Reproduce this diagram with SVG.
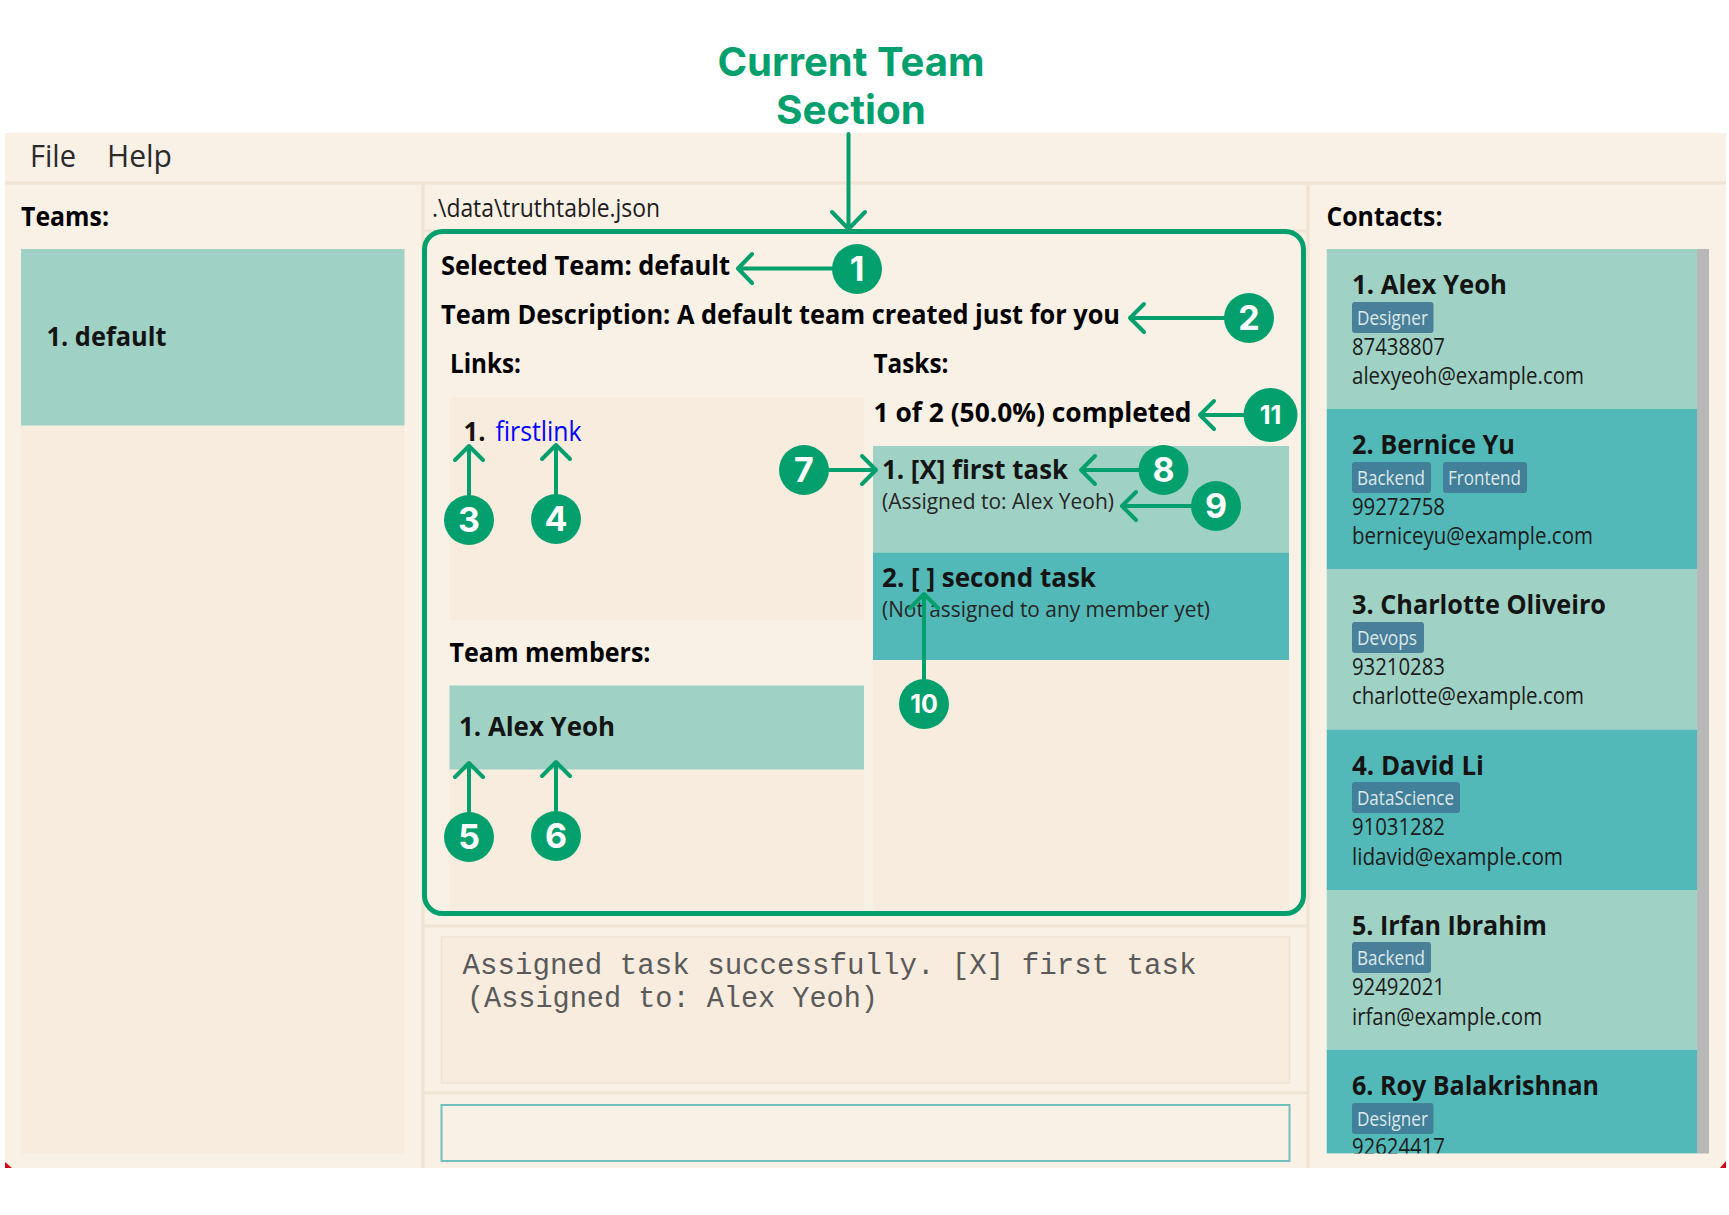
<svg xmlns="http://www.w3.org/2000/svg" width="1729" height="1215" viewBox="0 0 1729 1215">
<style>
text{font-family:"Open Sans","Noto Sans","Liberation Sans",sans-serif;fill:#000}
.h{font-size:26px;font-weight:700}
.n{font-size:27px;font-weight:700;fill:#141414}
.s{font-size:22px;fill:#262626}
.p{font-size:23px;fill:#1c1c1c}
.m{font-size:31px;fill:#2a2a2a}
.t{font-size:20px;fill:#dbe9ea}
.tag{fill:#4a7f99}
.tag2{fill:#427f98}
.c1{fill:#9fd2c4}
.c2{fill:#53b9b8}
.lb{fill:#f8ecde}
.div{stroke:#efe3d2;stroke-width:3;fill:none}
.title{font-family:Inter,"Liberation Sans",sans-serif;font-size:40px;font-weight:700;fill:#03a06e;text-anchor:middle}
.badge circle{fill:#03a06e}
.badge text{font-family:Inter,"Liberation Sans",sans-serif;font-size:34px;font-weight:700;fill:#fff;text-anchor:middle}
.badge text.sm{font-size:25px}
.mono{font-family:"Liberation Mono",monospace;font-size:29px;fill:#5a5a5a}
.ar{stroke:#03a06e;stroke-width:4;fill:none;stroke-linecap:round;stroke-linejoin:round}
</style>
<defs><clipPath id="listclip"><rect x="1327.5" y="249" width="371" height="904.5"/></clipPath></defs>
<rect width="1729" height="1215" fill="#fff"/>
<g id="window">
<rect x="5" y="133" width="1721" height="1035" fill="#f9f0e6"/>
<polygon points="5,1162 5,1168 12,1168" fill="#d0021b"/>
<polygon points="1726,1161 1726,1168 1720,1168" fill="#d0021b"/>
<path class="div" d="M5 183H1726M423 183V1168M1308 183V1168M423 231H1308M423 926H1308M423 1093H1308"/>
</g>
<g id="title">
<text class="title" x="851" y="76" textLength="267" lengthAdjust="spacingAndGlyphs">Current Team</text>
<text class="title" x="851" y="124" textLength="150" lengthAdjust="spacingAndGlyphs">Section</text>
</g>
<g id="menu">
<text class="m" x="30" y="166.5" textLength="46" lengthAdjust="spacingAndGlyphs">File</text>
<text class="m" x="107" y="166.5" textLength="65" lengthAdjust="spacingAndGlyphs">Help</text>
</g>
<g id="teams-panel">
<text class="h" x="21" y="225.5" textLength="88" lengthAdjust="spacingAndGlyphs">Teams:</text>
<rect class="lb" x="21" y="249" width="383.5" height="904.5"/>
<rect class="c1" x="21" y="249" width="383.5" height="176.5"/>
<text class="n" x="46.5" y="346" textLength="120" lengthAdjust="spacingAndGlyphs">1. default</text>
</g>
<g id="file-path"><text class="p" x="432" y="217" style="font-size:25px" textLength="228" lengthAdjust="spacingAndGlyphs">.\data\truthtable.json</text></g>
<g id="team-header">
<text class="h" x="441" y="275.3" textLength="289" lengthAdjust="spacingAndGlyphs">Selected Team: default</text>
<text class="h" x="441" y="324" textLength="679" lengthAdjust="spacingAndGlyphs">Team Description: A default team created just for you</text>
</g>
<g id="links">
<text class="h" x="450" y="373" textLength="71" lengthAdjust="spacingAndGlyphs">Links:</text>
<rect class="lb" x="449.5" y="397" width="414.5" height="223"/>
<text class="n" x="463.5" y="441" textLength="22" lengthAdjust="spacingAndGlyphs">1.</text>
<text x="495.5" y="441" style="font-size:27px;fill:#0000ff" textLength="86" lengthAdjust="spacingAndGlyphs">firstlink</text>
</g>
<g id="team-members">
<text class="h" x="449.5" y="661.5" textLength="201" lengthAdjust="spacingAndGlyphs">Team members:</text>
<rect class="lb" x="449.5" y="685.5" width="414.5" height="224"/>
<rect class="c1" x="449.5" y="685.5" width="414.5" height="84"/>
<text class="n" x="459" y="735.7" textLength="156" lengthAdjust="spacingAndGlyphs">1. Alex Yeoh</text>
</g>
<g id="tasks">
<text class="h" x="873.5" y="373" textLength="75" lengthAdjust="spacingAndGlyphs">Tasks:</text>
<text class="h" x="873.5" y="422" textLength="318" lengthAdjust="spacingAndGlyphs">1 of 2 (50.0%) completed</text>
<rect class="lb" x="873" y="446" width="416" height="463.5"/>
<rect class="c1" x="873" y="446" width="416" height="106.5"/>
<rect class="c2" x="873" y="552.5" width="416" height="107.5"/>
<text class="n" x="882" y="478.7" textLength="186" lengthAdjust="spacingAndGlyphs">1. [X] first task</text>
<text class="s" x="882" y="509" textLength="232" lengthAdjust="spacingAndGlyphs">(Assigned to: Alex Yeoh)</text>
<text class="n" x="882" y="586.7" textLength="214" lengthAdjust="spacingAndGlyphs">2. [ ] second task</text>
<text class="s" x="882" y="616.5" textLength="328" lengthAdjust="spacingAndGlyphs">(Not assigned to any member yet)</text>
</g>
<g id="result-box">
<rect class="lb" x="441.5" y="937" width="848" height="146" stroke="#efe3d2" stroke-width="1.5"/>
<text class="mono" x="462.5" y="974" textLength="734" lengthAdjust="spacingAndGlyphs">Assigned task successfully. [X] first task</text>
<text class="mono" x="467" y="1007" textLength="411" lengthAdjust="spacingAndGlyphs">(Assigned to: Alex Yeoh)</text>
</g>
<g id="command-box"><rect x="441.5" y="1105" width="848" height="56" fill="#f9f0e6" stroke="#73bfbd" stroke-width="2"/></g>
<g id="contacts">
<rect x="1697" y="249" width="12" height="904.5" fill="#b8b8b8"/>
<g transform="translate(-1 0)">
<text class="h" x="1327.5" y="225.5" textLength="116" lengthAdjust="spacingAndGlyphs">Contacts:</text>
<g clip-path="url(#listclip)">
<g id="contact-1">
<rect class="c1" x="1327.5" y="249" width="370.5" height="160"/>
<text class="n" x="1353" y="294.2" textLength="155" lengthAdjust="spacingAndGlyphs">1. Alex Yeoh</text>
<rect class="tag" x="1353" y="302" width="81.5" height="31" rx="3"/>
<text class="t" x="1358" y="325" textLength="71" lengthAdjust="spacingAndGlyphs">Designer</text>
<text class="p" x="1353" y="355" textLength="93" lengthAdjust="spacingAndGlyphs">87438807</text>
<text class="p" x="1353" y="384" textLength="232" lengthAdjust="spacingAndGlyphs">alexyeoh@example.com</text>
</g>
<g id="contact-2">
<rect class="c2" x="1327.5" y="409" width="370.5" height="160.5"/>
<text class="n" x="1353" y="454.2" textLength="163" lengthAdjust="spacingAndGlyphs">2. Bernice Yu</text>
<rect class="tag2" x="1353" y="462" width="79" height="31" rx="3"/>
<text class="t" x="1358" y="485" textLength="68" lengthAdjust="spacingAndGlyphs">Backend</text>
<rect class="tag2" x="1444" y="462" width="84" height="31" rx="3"/>
<text class="t" x="1449" y="485" textLength="73" lengthAdjust="spacingAndGlyphs">Frontend</text>
<text class="p" x="1353" y="515" textLength="93" lengthAdjust="spacingAndGlyphs">99272758</text>
<text class="p" x="1353" y="544" textLength="241" lengthAdjust="spacingAndGlyphs">berniceyu@example.com</text>
</g>
<g id="contact-3">
<rect class="c1" x="1327.5" y="569.5" width="370.5" height="160"/>
<text class="n" x="1353" y="614.2" textLength="254" lengthAdjust="spacingAndGlyphs">3. Charlotte Oliveiro</text>
<rect class="tag" x="1353" y="622" width="72" height="31" rx="3"/>
<text class="t" x="1358" y="645" textLength="60" lengthAdjust="spacingAndGlyphs">Devops</text>
<text class="p" x="1353" y="675" textLength="93" lengthAdjust="spacingAndGlyphs">93210283</text>
<text class="p" x="1353" y="704" textLength="232" lengthAdjust="spacingAndGlyphs">charlotte@example.com</text>
</g>
<g id="contact-4">
<rect class="c2" x="1327.5" y="729.5" width="370.5" height="160.5"/>
<text class="n" x="1353" y="774.7" textLength="132" lengthAdjust="spacingAndGlyphs">4. David Li</text>
<rect class="tag2" x="1353" y="782" width="108" height="31" rx="3"/>
<text class="t" x="1358" y="805" textLength="97" lengthAdjust="spacingAndGlyphs">DataScience</text>
<text class="p" x="1353" y="835" textLength="93" lengthAdjust="spacingAndGlyphs">91031282</text>
<text class="p" x="1353" y="864.5" textLength="211" lengthAdjust="spacingAndGlyphs">lidavid@example.com</text>
</g>
<g id="contact-5">
<rect class="c1" x="1327.5" y="890" width="370.5" height="159.7"/>
<text class="n" x="1353" y="934.7" textLength="195" lengthAdjust="spacingAndGlyphs">5. Irfan Ibrahim</text>
<rect class="tag" x="1353" y="942" width="79" height="31" rx="3"/>
<text class="t" x="1358" y="965" textLength="68" lengthAdjust="spacingAndGlyphs">Backend</text>
<text class="p" x="1353" y="995" textLength="93" lengthAdjust="spacingAndGlyphs">92492021</text>
<text class="p" x="1353" y="1024.5" textLength="190" lengthAdjust="spacingAndGlyphs">irfan@example.com</text>
</g>
<g id="contact-6">
<rect class="c2" x="1327.5" y="1049.7" width="370.5" height="104"/>
<text class="n" x="1353" y="1094.7" textLength="247" lengthAdjust="spacingAndGlyphs">6. Roy Balakrishnan</text>
<rect class="tag2" x="1353" y="1103" width="81.5" height="31" rx="3"/>
<text class="t" x="1358" y="1125.5" textLength="71" lengthAdjust="spacingAndGlyphs">Designer</text>
<text class="p" x="1353" y="1155" textLength="93" lengthAdjust="spacingAndGlyphs">92624417</text>
</g>
</g>
</g>
</g>
<g id="current-team-frame"><rect x="424.5" y="231.5" width="879" height="682" rx="18" fill="none" stroke="#03a06e" stroke-width="5"/></g>
<g id="connectors" class="ar">
<path d="M848.5 134V229M832 212L848.5 229L865 212"/>
<path d="M835 268.5H739M752 254L738 268.5L752 283"/>
<path d="M1226 318H1130M1144 304L1130 318L1144 332"/>
<path d="M469 497V446M455 460L469 446L483 460"/>
<path d="M556 496V445M542 459L556 445L570 459"/>
<path d="M469 814V763M455 777L469 763L483 777"/>
<path d="M556 813V762M542 776L556 762L570 776"/>
<path d="M828 470H875M862 456L876 470L862 484"/>
<path d="M1140 470H1081M1095 456L1081 470L1095 484"/>
<path d="M1193 506H1122M1136 492L1122 506L1136 520"/>
<path d="M924 680V594M910 608L924 594L938 608"/>
<path d="M1246 415H1200M1214 401L1200 415L1214 429"/>
</g>
<g id="badge-1" class="badge"><circle cx="857" cy="269" r="25"/><text x="857" y="281">1</text></g>
<g id="badge-2" class="badge"><circle cx="1249" cy="318" r="25"/><text x="1249" y="330">2</text></g>
<g id="badge-3" class="badge"><circle cx="469" cy="520" r="25"/><text x="469" y="532">3</text></g>
<g id="badge-4" class="badge"><circle cx="556" cy="519" r="25"/><text x="556" y="531">4</text></g>
<g id="badge-5" class="badge"><circle cx="469" cy="837" r="25"/><text x="469" y="849">5</text></g>
<g id="badge-6" class="badge"><circle cx="556" cy="836" r="25"/><text x="556" y="848">6</text></g>
<g id="badge-7" class="badge"><circle cx="804" cy="470" r="25"/><text x="804" y="482">7</text></g>
<g id="badge-8" class="badge"><circle cx="1163.5" cy="470" r="25"/><text x="1163.5" y="482">8</text></g>
<g id="badge-9" class="badge"><circle cx="1216" cy="506" r="25"/><text x="1216" y="518">9</text></g>
<g id="badge-10" class="badge"><circle cx="924" cy="704" r="25"/><text class="sm" x="924" y="713">10</text></g>
<g id="badge-11" class="badge"><circle cx="1270.5" cy="415" r="27"/><text class="sm" x="1270.5" y="424">11</text></g>
</svg>
